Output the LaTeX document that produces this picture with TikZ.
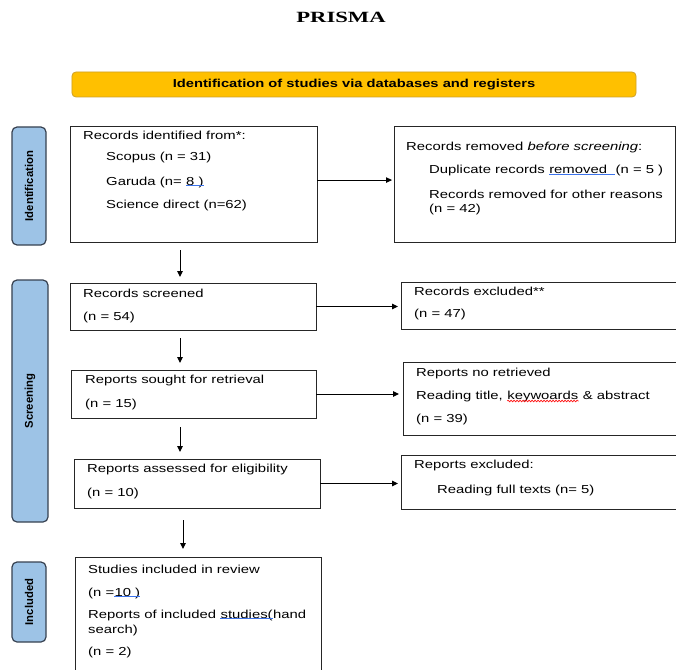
\documentclass[tikz,border=0pt]{standalone}
\usepackage{fontspec}
\setmainfont{Liberation Sans}[FakeStretch=1.28]
\newfontfamily\titlefont{Liberation Serif}[FakeStretch=1.45]
\newfontfamily\sidefont{Liberation Sans}
\usetikzlibrary{arrows.meta,calc,decorations.pathmorphing}
\definecolor{gold}{RGB}{255,192,0}
\definecolor{goldline}{RGB}{205,160,40}
\definecolor{sideblue}{RGB}{157,195,230}
\definecolor{sideline}{RGB}{55,65,80}
\definecolor{ulblue}{RGB}{60,115,235}
\begin{document}
\begin{tikzpicture}[x=1bp,y=-1bp,
  box/.style={draw=black!85, line width=1bp, inner sep=0pt, outer sep=0pt, anchor=north west},
  txt/.style={anchor=west, inner sep=0pt, font=\fontsize{11.6bp}{13bp}\selectfont},
  tail/.style={anchor=base west, inner sep=0pt, font=\fontsize{11.6bp}{13bp}\selectfont},
  blueline/.style={draw=ulblue, line width=0.9bp},
  redwave/.style={draw=red, line width=0.6bp, decorate, decoration={snake, amplitude=0.9bp, segment length=3bp}},
  banner/.style={draw=goldline, fill=gold, rounded corners=4bp, line width=0.8bp,
    minimum width=564bp, minimum height=25bp, inner sep=0pt,
    font=\bfseries\fontsize{11.5bp}{13bp}\selectfont},
  sidebox/.style={draw=sideline, fill=sideblue, line width=1.2bp, rounded corners=5bp,
    rotate=90, inner sep=0pt, font=\sidefont\bfseries\fontsize{11.3bp}{13bp}\selectfont},
  arr/.style={line width=1bp, -{Triangle[length=6bp,width=5.5bp]}}
]
\clip (0,0) rectangle (676,670);

\node[font=\titlefont\bfseries\fontsize{15.6bp}{17bp}\selectfont] (title) at (341,17) {PRISMA};

\node[banner] (ban) at (354,84.5) {Identification of studies via databases and registers};

% side labels
\node[sidebox, minimum width=118bp, minimum height=34bp] (sidI) at (29,186) {Identification};
\node[sidebox, minimum width=242bp, minimum height=36bp] (sidS) at (30,401) {Screening};
\node[sidebox, minimum width=80bp, minimum height=34bp] (sidN) at (29,602) {Included};

% identification
\node[box, minimum width=247bp, minimum height=116bp] (b1) at (70,126) {};
\node[txt] (b1l1) at (83,135) {Records identified from*:};
\node[txt] (b1l2) at (106,158) {Scopus (n = 31)};
\node[txt] (b1l3) at (106,182) {Garuda (n=\ \null};
\node[tail] (b1l3u) at (b1l3.base east) {8 )};
\node[txt] (b1l4) at (106,205) {Science direct (n=62)};

\node[box, minimum width=281bp, minimum height=116bp] (r1) at (394,126) {};
\node[txt] (r1l1) at (406,148) {Records removed \textit{before screening}:};
\node[txt] (r1l2) at (429,171) {Duplicate records\ \null};
\node[tail] (r1l2u) at (r1l2.base east) {removed\ \ \null};
\node[tail] (r1l2t) at (r1l2u.base east) {(n = 5 )};
\node[txt] (r1l3) at (429,194) {Records removed for other reasons};
\node[txt] (r1l4) at (429,209) {(n = 42)};

% screening
\node[box, minimum width=246bp, minimum height=47bp] (sc) at (70,283) {};
\node[txt] (scl1) at (83,293) {Records screened};
\node[txt] (scl2) at (83,317) {(n = 54)};

\node[box, minimum width=275bp, minimum height=47bp] (ex) at (401,282) {};
\node[txt] (exl1) at (414,291) {Records excluded**};
\node[txt] (exl2) at (414,314) {(n = 47)};

\node[box, minimum width=245bp, minimum height=48bp] (so) at (71,370) {};
\node[txt] (sol1) at (85,380) {Reports sought for retrieval};
\node[txt] (sol2) at (85,404) {(n = 15)};

\node[box, minimum width=273bp, minimum height=73bp] (nr) at (403,362) {};
\node[txt] (nrl1) at (416,373) {Reports no retrieved};
\node[txt] (nrl2) at (416,396) {Reading title,\ \null};
\node[tail] (nrl2u) at (nrl2.base east) {keywoards};
\node[tail] (nrl2t) at (nrl2u.base east) {\null\ \& abstract};
\node[txt] (nrl3) at (416,419) {(n = 39)};

\node[box, minimum width=246bp, minimum height=49bp] (as) at (74,459) {};
\node[txt] (asl1) at (87,469) {Reports assessed for eligibility};
\node[txt] (asl2) at (87,493) {(n = 10)};

\node[box, minimum width=275bp, minimum height=54bp] (ex2) at (401,455) {};
\node[txt] (ex2l1) at (414,465) {Reports excluded:};
\node[txt] (ex2l2) at (437,490) {Reading full texts (n= 5)};

% included
\node[box, minimum width=246bp, minimum height=125bp] (in) at (75,557) {};
\node[txt] (inl1) at (88,569) {Studies included in review};
\node[txt] (inl2) at (88,593) {(n =};
\node[tail] (inl2u) at (inl2.base east) {10 )};
\node[txt] (inl3) at (88,615) {Reports of included\ \null};
\node[tail] (inl3u) at (inl3.base east) {studies(};
\node[tail] (inl3t) at (inl3u.base east) {hand};
\node[txt] (inl4) at (88,630) {search)};
\node[txt] (inl5) at (88,652) {(n = 2)};

% proofing marks
\draw[blueline] ([yshift=-0.8bp]b1l3u.base west) -- ([yshift=-0.8bp]b1l3u.base east);
\draw[blueline] ([yshift=-0.8bp]r1l2u.base west) -- ([yshift=-0.8bp]r1l2u.base east);
\draw[blueline] ([yshift=-0.8bp]inl2u.base west) -- ([yshift=-0.8bp]inl2u.base east);
\draw[blueline] ([yshift=-0.8bp]inl3u.base west) -- ([yshift=-0.8bp]inl3u.base east);
\draw[redwave] ([yshift=-2bp]nrl2u.base west) -- ([yshift=-2bp]nrl2u.base east);

% horizontal arrows
\coordinate (h1) at ($(b1.north east)!0.466!(b1.south east)$);
\draw[arr, shorten >=2bp] (h1) -- (h1 -| r1.west);
\draw[arr, shorten >=3bp] (sc.east) -- (sc.east -| ex.west);
\draw[arr, shorten >=4bp] (so.east) -- (so.east -| nr.west);
\draw[arr, shorten >=3bp] (as.east) -- (as.east -| ex2.west);

% vertical arrows
\coordinate (d1a) at (180,250); \coordinate (d1b) at (180,277);
\coordinate (d2a) at (180,338); \coordinate (d2b) at (180,363);
\coordinate (d3a) at (180,427); \coordinate (d3b) at (180,452);
\coordinate (d4a) at (183,520); \coordinate (d4b) at (183,549);
\draw[arr] (d1a) -- (d1b);
\draw[arr] (d2a) -- (d2b);
\draw[arr] (d3a) -- (d3b);
\draw[arr] (d4a) -- (d4b);
\end{tikzpicture}
\end{document}
